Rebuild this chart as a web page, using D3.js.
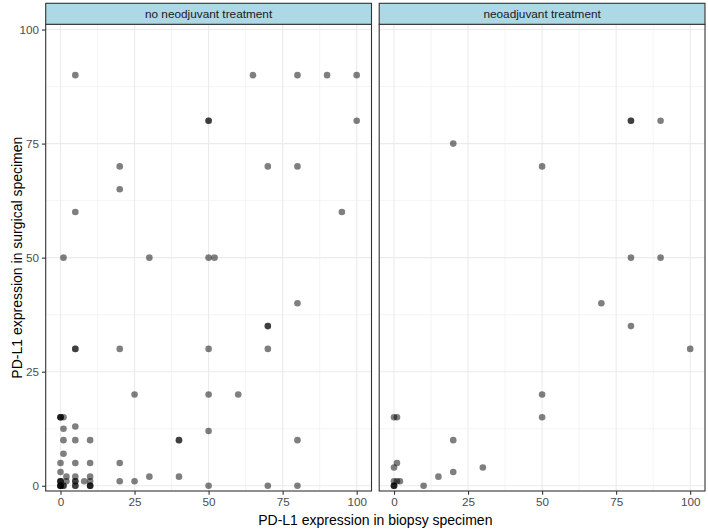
<!DOCTYPE html>
<html>
<head>
<meta charset="utf-8">
<script src="https://cdn.jsdelivr.net/npm/d3@7"></script>
<style>
  html, body { margin: 0; padding: 0; background: #fff; }
  svg { display: block; font-family: "Liberation Sans", Arial, Helvetica, sans-serif; }
</style>
</head>
<body>
<svg id="chart" width="708" height="529"></svg>
<script>
// ---- Data ----
const facets = ["no neodjuvant treatment", "neoadjuvant treatment"];
const xTicks = [0, 25, 50, 75, 100];
const yTicks = [0, 25, 50, 75, 100];
const minorTicks = [12.5, 37.5, 62.5, 87.5];
const xTitle = "PD-L1 expression in biopsy specimen";
const yTitle = "PD-L1 expression in surgical specimen";

// no neoadjuvant treatment: biopsy (x) and surgical (y)
const noNeoBiopsy = [
  0,0,0,0,1,1,5,5,10,10,10,50,70,80,
  0,0,0,2,5,5,8,10,20,25,
  2,5,10,30,40,
  0,
  0,5,10,20,
  1,
  1,5,10,40,40,80,
  1,5,50,
  0,0,0,1,
  25,50,60,
  5,5,20,50,70,
  70,70,
  80,
  1,30,50,52,
  5,95,
  20,
  20,70,80,
  50,50,100,
  5,65,80,90,100
];
const noNeoSurgical = [
  0,0,0,0,0,0,0,0,0,0,0,0,0,0,
  1,1,1,1,1,1,1,1,1,1,
  2,2,2,2,2,
  3,
  5,5,5,5,
  7,
  10,10,10,10,10,10,
  12.5,13,12,
  15,15,15,15,
  20,20,20,
  30,30,30,30,30,
  35,35,
  40,
  50,50,50,50,
  60,60,
  65,
  70,70,70,
  80,80,80,
  90,90,90,90,90
];

// neoadjuvant treatment
const neoBiopsy = [
  0,0,0,10,
  0,1,2,
  15,
  20,
  0,30,
  1,
  20,
  0,1,50,
  50,
  100,
  80,
  70,
  80,90,
  50,
  20,
  80,80,90
];
const neoSurgical = [
  0,0,0,0,
  1,1,1,
  2,
  3,
  4,4,
  5,
  10,
  15,15,15,
  20,
  30,
  35,
  40,
  50,50,
  70,
  75,
  80,80,80
];

const panelData = [
  noNeoBiopsy.map((x, i) => ({x, y: noNeoSurgical[i]})),
  neoBiopsy.map((x, i) => ({x, y: neoSurgical[i]}))
];

// ---- Layout ----
const svg = d3.select("#chart");
const panelLefts = [45.7, 379.2];
const panelW = 325.8;
const panelTop = 24.3, panelBottom = 491;
const stripTop = 3.3;

const y = d3.scaleLinear().domain([-1.15, 101.15]).range([panelBottom, panelTop]);

const tickColor = "#4D4D4D";

panelLefts.forEach((left, p) => {
  const x = d3.scaleLinear().domain([-5, 105]).range([left, left + panelW]);
  const g = svg.append("g");

  g.append("rect").attr("x", left).attr("y", panelTop).attr("width", panelW)
    .attr("height", panelBottom - panelTop).attr("fill", "#fff");

  // minor grid
  g.selectAll(".vminor").data(minorTicks).join("line")
    .attr("x1", d => x(d)).attr("x2", d => x(d))
    .attr("y1", panelTop).attr("y2", panelBottom)
    .attr("stroke", "#EBEBEB").attr("stroke-width", 0.55);
  g.selectAll(".hminor").data(minorTicks).join("line")
    .attr("y1", d => y(d)).attr("y2", d => y(d))
    .attr("x1", left).attr("x2", left + panelW)
    .attr("stroke", "#EBEBEB").attr("stroke-width", 0.55);
  // major grid
  g.selectAll(".vmajor").data(xTicks).join("line")
    .attr("x1", d => x(d)).attr("x2", d => x(d))
    .attr("y1", panelTop).attr("y2", panelBottom)
    .attr("stroke", "#EBEBEB").attr("stroke-width", 1.1);
  g.selectAll(".hmajor").data(yTicks).join("line")
    .attr("y1", d => y(d)).attr("y2", d => y(d))
    .attr("x1", left).attr("x2", left + panelW)
    .attr("stroke", "#EBEBEB").attr("stroke-width", 1.1);

  // points
  g.selectAll("circle").data(panelData[p]).join("circle")
    .attr("cx", d => x(d.x)).attr("cy", d => y(d.y))
    .attr("r", 3.3).attr("fill", "#000").attr("fill-opacity", 0.5);

  // panel border
  g.append("rect").attr("x", left).attr("y", panelTop).attr("width", panelW)
    .attr("height", panelBottom - panelTop).attr("fill", "none")
    .attr("stroke", "#333333").attr("stroke-width", 1.1);

  // strip
  g.append("rect").attr("x", left).attr("y", stripTop).attr("width", panelW)
    .attr("height", panelTop - stripTop).attr("fill", "#ADD8E6")
    .attr("stroke", "#333333").attr("stroke-width", 1.1);
  g.append("text").attr("x", left + panelW / 2).attr("y", (stripTop + panelTop) / 2)
    .attr("text-anchor", "middle").attr("dominant-baseline", "central")
    .attr("font-size", 11.8).attr("fill", "#1A1A1A").text(facets[p]);

  // x axis
  const xa = g.append("g").attr("transform", `translate(0,${panelBottom})`)
    .call(d3.axisBottom(x).tickValues(xTicks).tickSize(3.7).tickPadding(3).tickSizeOuter(0));
  xa.select(".domain").remove();
  xa.selectAll("line").attr("stroke", "#333333").attr("stroke-width", 1.1);
  xa.selectAll("text").attr("fill", tickColor).attr("font-size", 11.7)
    .attr("font-family", "Liberation Sans, Arial, sans-serif");

  if (p === 0) {
    const ya = g.append("g").attr("transform", `translate(${left},0)`)
      .call(d3.axisLeft(y).tickValues(yTicks).tickSize(3.7).tickPadding(3).tickSizeOuter(0));
    ya.select(".domain").remove();
    ya.selectAll("line").attr("stroke", "#333333").attr("stroke-width", 1.1);
    ya.selectAll("text").attr("fill", tickColor).attr("font-size", 11.7)
      .attr("font-family", "Liberation Sans, Arial, sans-serif");
  }
});

// titles
svg.append("text")
  .attr("x", (panelLefts[0] + panelLefts[1] + panelW) / 2).attr("y", 525)
  .attr("text-anchor", "middle").attr("font-size", 14).attr("fill", "#000")
  .text(xTitle);
svg.append("text")
  .attr("transform", `translate(22,${(panelTop + panelBottom) / 2}) rotate(-90)`)
  .attr("text-anchor", "middle").attr("font-size", 14).attr("fill", "#000")
  .text(yTitle);
</script>
</body>
</html>
